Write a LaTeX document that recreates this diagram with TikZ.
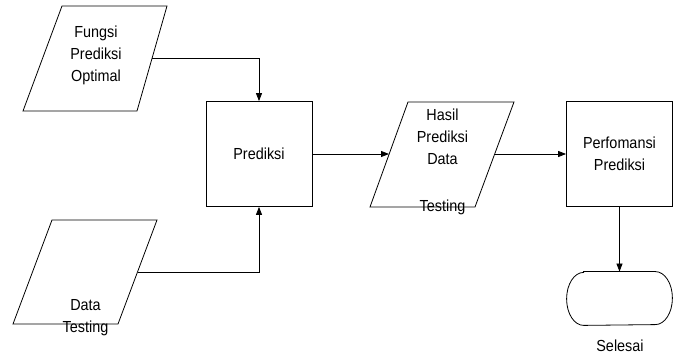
\documentclass[tikz,border=0pt]{standalone}
\usepackage{fontspec}
\setmainfont{Liberation Sans}[FakeStretch=0.9]
\usetikzlibrary{arrows.meta}
\begin{document}
\begin{tikzpicture}[x=1pt,y=1pt,
  line width=0.8pt,
  txt/.style={font=\fontsize{16}{22}\selectfont, align=center, inner sep=0pt},
  boxnode/.style={draw, rectangle, minimum width=106pt, minimum height=105pt, font=\fontsize{16}{22}\selectfont, align=center},
  conn/.style={-{Triangle[length=8pt,width=6pt]}}]
\useasboundingbox (0,0) rectangle (681,356);
% parallelogram 1
\draw (62,350) -- (167,350) -- (137,245) -- (23,245) -- cycle;
\coordinate (p1r) at (152,298);
\node[txt] (t1) at (96,301) {Fungsi\\Prediksi\\Optimal};
% parallelogram 2
\draw (52,136) -- (157,136) -- (118,32) -- (13,32) -- cycle;
\coordinate (p2r) at (137.5,84);
\node[txt] (t2) at (85.5,38) {Data\\Testing};
% Prediksi box
\node[boxnode] (pred) at (259,202) {Prediksi};
% parallelogram 3
\draw (408,254) -- (514,254) -- (475,149) -- (370,149) -- cycle;
\coordinate (p3l) at (389,202);
\coordinate (p3r) at (494.5,202);
\node[txt] (t3) at (442.5,219) {Hasil\\Prediksi\\Data};
\node[txt] (t3b) at (442.5,149) {Testing};
% Performansi box
\node[boxnode] (perf) at (619.5,202) {Perfomansi\\Prediksi};
% terminal
\node[minimum width=105pt, minimum height=53pt, inner sep=0pt] (term) at (619.5,57.5) {};
\draw ([xshift=17pt]term.north west) -- ([xshift=-17pt]term.north east)
  arc[start angle=90, end angle=-90, x radius=17, y radius=26.5]
  -- ([xshift=17pt]term.south west)
  arc[start angle=270, end angle=90, x radius=17, y radius=26.5] -- cycle;
\node[txt] (sel) at (620,10) {Selesai};
% connectors
\draw[conn] (p1r) -| (pred.north);
\draw[conn] (p2r) -| (pred.south);
\draw[conn] (pred.east) -- (p3l);
\draw[conn] (p3r) -- (perf.west);
\draw[conn] (perf.south) -- (term.north);
\end{tikzpicture}
\end{document}
